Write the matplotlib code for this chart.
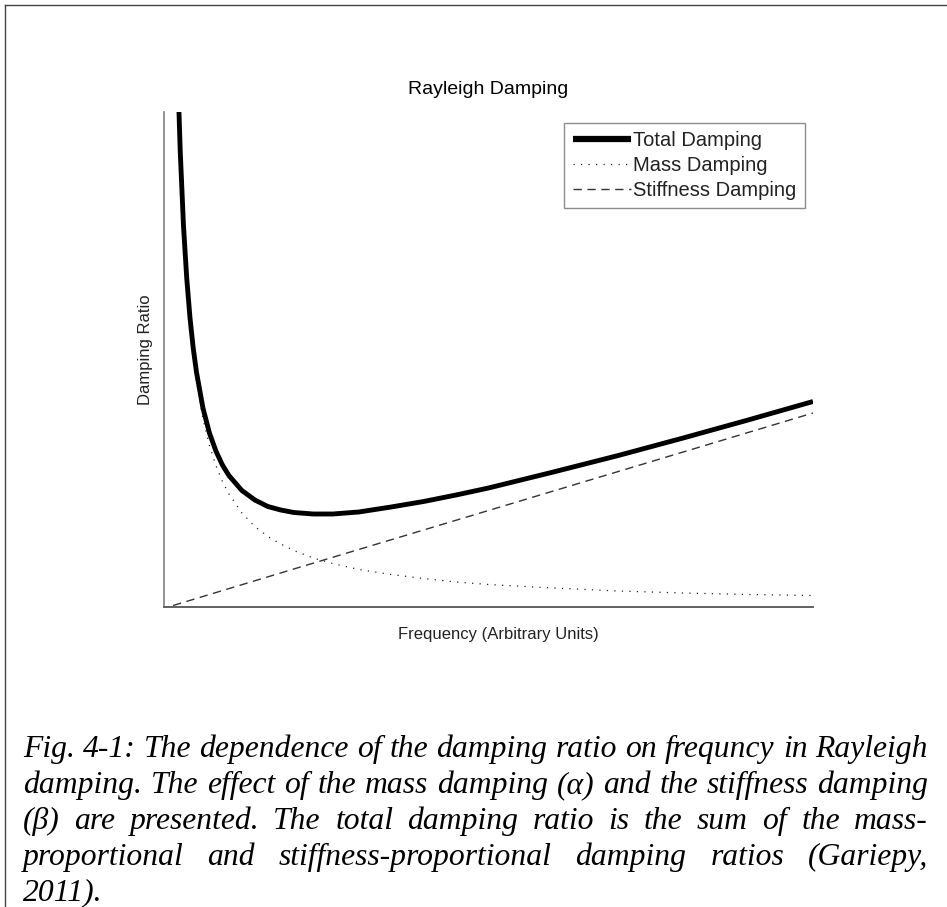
import matplotlib
matplotlib.use("Agg")
import matplotlib.pyplot as plt
from matplotlib.lines import Line2D

# ---------------- data ----------------
freq = [0.20, 0.22, 0.25, 0.30, 0.35, 0.40, 0.45, 0.50, 0.60, 0.70, 0.80, 0.90,
        1.0, 1.2, 1.4, 1.6, 1.8, 2.0, 2.3, 2.6, 3.0, 3.5, 4.0, 4.5, 5.0,
        6.0, 7.0, 8.0, 9.0, 10.0]
mass_damping = [11.30, 10.27, 9.04, 7.53, 6.46, 5.65, 5.02, 4.52, 3.77, 3.23, 2.83, 2.51,
                2.26, 1.88, 1.61, 1.41, 1.26, 1.13, 0.98, 0.87, 0.75, 0.65, 0.57, 0.50, 0.45,
                0.38, 0.32, 0.28, 0.25, 0.23]
total_damping = [11.36, 10.34, 9.12, 7.63, 6.58, 5.79, 5.18, 4.70, 3.98, 3.48, 3.12, 2.84,
                 2.63, 2.33, 2.14, 2.01, 1.94, 1.89, 1.86, 1.86, 1.90, 2.00, 2.11, 2.24, 2.38,
                 2.70, 3.03, 3.38, 3.74, 4.11]
stiff_freq = [0.14, 2.0, 4.0, 6.0, 8.0, 10.0]
stiffness_damping = [0.03, 0.76, 1.54, 2.32, 3.10, 3.88]

title = "Rayleigh Damping"
xlabel = "Frequency (Arbitrary Units)"
ylabel = "Damping Ratio"
legend_labels = ["Total Damping", "Mass Damping", "Stiffness Damping"]
caption_lines = [
    "Fig. 4-1: The dependence of the damping ratio on frequncy in Rayleigh",
    "damping. The effect of the mass damping (\u03b1) and the stiffness damping",
    "(\u03b2) are presented. The total damping ratio is the sum of the mass-",
    "proportional and stiffness-proportional damping ratios (Gariepy,",
    "2011).",
]

# ---------------- figure ----------------
W, H = 947, 907
fig = plt.figure(figsize=(W / 100, H / 100), dpi=100)
fig.patch.set_facecolor("white")
plt.rcParams["font.family"] = ["Liberation Sans", "DejaVu Sans"]

def fx(px):
    return px / W

def fy(py):
    return 1 - py / H

# outer frame (top and left edges visible)
fig.add_artist(Line2D([fx(5), 1.0], [fy(5), fy(5)], color="#444444", lw=1.0))
fig.add_artist(Line2D([fx(5), fx(5)], [fy(5), 0.0], color="#444444", lw=1.0))

ax = fig.add_axes([fx(164), fy(607), fx(813) - fx(164), fy(112) - fy(607)])
ax.set_xlim(0, 10)
ax.set_ylim(0, 9.9)
for s in ["top", "right"]:
    ax.spines[s].set_visible(False)
ax.spines["left"].set_color("#808080")
ax.spines["bottom"].set_color("#606060")
ax.spines["left"].set_linewidth(1.2)
ax.spines["bottom"].set_linewidth(1.4)
ax.set_xticks([])
ax.set_yticks([])

ax.plot(freq, total_damping, color="black", lw=3.5, solid_capstyle="butt",
        label=legend_labels[0], zorder=3)
ax.plot(freq, mass_damping, color="#222222", lw=0.9, linestyle=(0, (1, 5)),
        label=legend_labels[1], zorder=2)
ax.plot(stiff_freq, stiffness_damping, color="#333333", lw=1.0, linestyle=(0, (6, 4)),
        label=legend_labels[2], zorder=2)

fig.text(fx(488), fy(90), title, ha="center", va="center", fontsize=14, color="black")
fig.text(fx(498), fy(634), xlabel, ha="center", va="center", fontsize=12, color="#222222")
fig.text(fx(145), fy(350), ylabel, ha="center", va="center", rotation=90,
         fontsize=12, color="#222222")

leg = ax.legend(loc="upper right", bbox_to_anchor=(fx(805), fy(123)),
                bbox_transform=fig.transFigure, borderaxespad=0,
                fontsize=14.5, handlelength=2.9, handletextpad=0.1,
                labelspacing=0.28, borderpad=0.42, fancybox=False,
                frameon=True, edgecolor="#707070")
leg.get_frame().set_linewidth(1.0)
leg.legend_handles[0].set_linewidth(4.5)
for t in leg.get_texts():
    t.set_color("#222222")

# ---------------- justified caption ----------------
cap_font = dict(family=["Liberation Serif", "DejaVu Serif"], style="italic", color="black")
renderer = fig.canvas.get_renderer()
left_px, right_px = 23, 928
baselines = [757, 793, 829, 865, 900]

def width_px(s, size):
    t = fig.text(0, 0, s, fontsize=size, **cap_font)
    w = t.get_window_extent(renderer).width
    t.remove()
    return w

ref = 20.0
w1 = width_px(caption_lines[0], ref)
cap_size = ref * (right_px - left_px - 2) / w1

for i, line in enumerate(caption_lines):
    words = line.split(" ")
    y = fy(baselines[i])
    if i == len(caption_lines) - 1 or len(words) == 1:
        fig.text(fx(left_px), y, line, fontsize=cap_size, va="baseline", ha="left", **cap_font)
        continue
    widths = [width_px(w, cap_size) for w in words]
    gap = (right_px - left_px - sum(widths)) / (len(words) - 1)
    x = left_px
    for w, wd in zip(words, widths):
        fig.text(fx(x), y, w, fontsize=cap_size, va="baseline", ha="left", **cap_font)
        x += wd + gap

fig.savefig("out.png", dpi=100, facecolor="white")
